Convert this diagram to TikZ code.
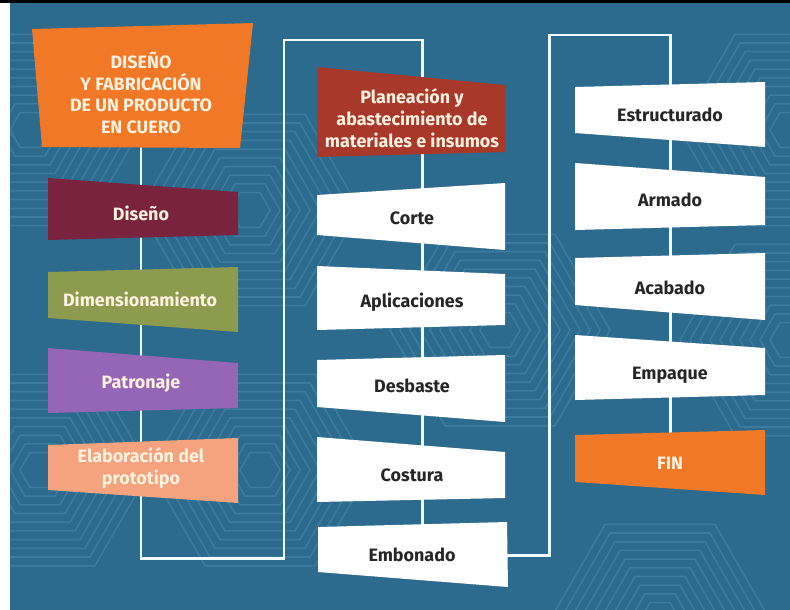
\documentclass[tikz,border=0pt]{standalone}
\usepackage{fontspec}
\setmainfont{Fira Sans}
\usetikzlibrary{backgrounds}
\definecolor{fondo}{RGB}{44,106,142}
\definecolor{trama}{RGB}{60,124,160}
\definecolor{naranja}{RGB}{240,120,38}
\definecolor{vino}{RGB}{122,35,62}
\definecolor{olivo}{RGB}{141,155,78}
\definecolor{morado}{RGB}{150,102,182}
\definecolor{salmon}{RGB}{245,162,126}
\definecolor{ladrillo}{RGB}{168,56,42}
\definecolor{crema}{RGB}{255,242,225}
\definecolor{tinta}{RGB}{38,38,38}
\definecolor{linea}{RGB}{240,250,255}

\begin{document}
\begin{tikzpicture}[x=0.02cm,y=-0.02cm,
    etiq/.style={font=\bfseries\fontsize{10.2}{12.4}\selectfont,align=center,text=crema},
    etiqb/.style={etiq,text=tinta},
    enlace/.style={draw=linea,line width=1.7pt},
    hexa/.style={draw=trama,line width=0.9pt}]
  \useasboundingbox (0,0) rectangle (790,609);
  % columna izquierda
  \node[etiq] (hd) at (141,93) {DISEÑO\\Y FABRICACIÓN\\DE UN PRODUCTO\\EN CUERO};
  \node[etiq] (ds) at (141,213) {Diseño};
  \node[etiq] (dm) at (140,299) {Dimensionamiento};
  \node[etiq] (pt) at (141,383) {Patronaje};
  \node[etiq] (el) at (141,468) {Elaboración del\\prototipo};
  % columna central
  \node[etiq] (pl) at (412,118) {Planeación y\\abastecimiento de\\materiales e insumos};
  \node[etiqb] (co) at (412,218) {Corte};
  \node[etiqb] (ap) at (412,302) {Aplicaciones};
  \node[etiqb] (db) at (412,386) {Desbaste};
  \node[etiqb] (cs) at (412,475) {Costura};
  \node[etiqb] (em) at (412,555) {Embonado};
  % columna derecha
  \node[etiqb] (es) at (670,115) {Estructurado};
  \node[etiqb] (ar) at (670,200) {Armado};
  \node[etiqb] (ac) at (670,288) {Acabado};
  \node[etiqb] (ep) at (670,375) {Empaque};
  \node[etiq] (fn) at (670,463) {FIN};
  \coordinate (ca) at (284,558);
  \coordinate (cb) at (422,40);
  \coordinate (cc) at (549,35);

  \begin{scope}[on background layer]
    \fill[white] (-5,-5) rectangle (795,615);
    \fill[black] (-5,-5) rectangle (795,3);
    \fill[fondo] (10,3) rectangle (795,615);
    \begin{scope}
      \clip (10,4) rectangle (795,615);
      \foreach \cx/\cy in {30/130,40/470,250/210,260/470,500/330,790/130,790/340,660/620}
        \foreach \r in {20,30,...,110}
          \draw[hexa] ({\cx-\r},\cy) -- ({\cx-\r/2},{\cy-0.87*\r}) -- ({\cx+\r/2},{\cy-0.87*\r})
            -- ({\cx+\r},\cy) -- ({\cx+\r/2},{\cy+0.87*\r}) -- ({\cx-\r/2},{\cy+0.87*\r}) -- cycle;
    \end{scope}
    % enlaces
    \draw[enlace] (hd.center) |- (ca) |- (cb) -- (cb |- em.center);
    \draw[enlace] (em.center) -| (cc) -| (fn.center);
    % cajas
    \fill[naranja] (32,29) -- (253,23) -- (240,148) -- (42,147) -- cycle;
    \fill[vino] (48,178) -- (238,192) -- (238,235) -- (48,240) -- cycle;
    \fill[olivo] (48,272) -- (238,267) -- (238,332) -- (48,318) -- cycle;
    \fill[morado] (48,348) -- (238,363) -- (238,408) -- (48,413) -- cycle;
    \fill[salmon] (48,445) -- (238,438) -- (238,503) -- (48,490) -- cycle;
    \fill[ladrillo] (317,67) -- (505,85) -- (505,152) -- (317,157) -- cycle;
    \fill[white] (317,195) -- (505,183) -- (505,250) -- (317,235) -- cycle;
    \fill[white] (317,266) -- (505,274) -- (505,325) -- (317,330) -- cycle;
    \fill[white] (317,360) -- (505,355) -- (505,422) -- (317,407) -- cycle;
    \fill[white] (317,437) -- (505,452) -- (505,498) -- (317,502) -- cycle;
    \fill[white] (318,527) -- (507,522) -- (508,587) -- (318,572) -- cycle;
    \fill[white] (575,87) -- (765,82) -- (765,147) -- (575,133) -- cycle;
    \fill[white] (575,163) -- (765,177) -- (765,225) -- (575,230) -- cycle;
    \fill[white] (575,258) -- (765,253) -- (765,320) -- (575,305) -- cycle;
    \fill[white] (575,335) -- (765,348) -- (765,395) -- (575,400) -- cycle;
    \fill[naranja] (575,435) -- (765,430) -- (765,495) -- (575,482) -- cycle;
  \end{scope}
\end{tikzpicture}
\end{document}
